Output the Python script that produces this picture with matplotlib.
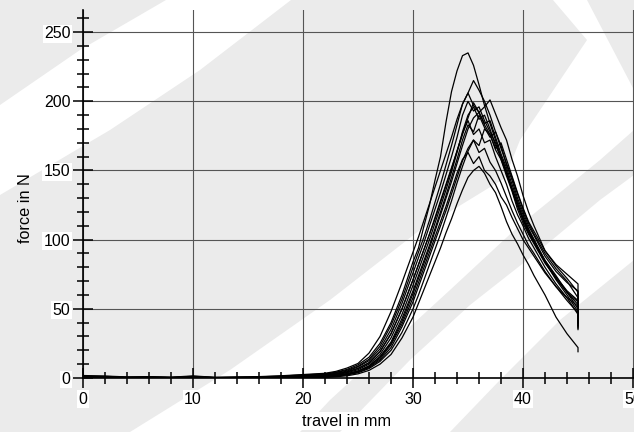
import numpy as np
import matplotlib.pyplot as plt
from matplotlib.patches import Polygon
from matplotlib.ticker import MultipleLocator

plt.rcParams['font.family'] = ['Liberation Sans', 'DejaVu Sans']

# travel grid shared by all runs (mm); last point repeats 45 for the unloading drop
travel = [0, 2, 4, 6, 8, 10, 12, 14, 16, 18, 20, 22, 23, 24, 25, 26, 27, 28, 29,
          30, 30.5, 31, 31.5, 32, 32.5, 33, 33.5, 34, 34.5, 35, 35.5, 36, 36.5,
          37, 37.5, 38, 38.5, 39, 39.5, 40, 40.5, 41, 42, 43, 44, 45, 45]

# force in N for each run
run01 = [1.5, 1.2, 0.6, 0.8, 0.5, 1.2, 0.4, 0.6, 0.8, 1.4, 2.2, 3.0, 4.2, 6.2, 9.5, 15, 25, 40, 60,
         84, 94, 110, 125, 143, 160, 185, 207, 222, 233, 235, 226, 212, 197,
         184, 172, 160, 148, 137, 126, 116, 107, 100, 85, 73, 63, 56, 44]
run02 = [1.0, 0.8, 0.4, 0.6, 0.3, 0.9, 0.3, 0.4, 0.6, 1.1, 1.9, 2.8, 3.9, 5.6, 8.5, 13.5, 23, 38, 57,
         80, 91, 102, 114, 127, 140, 154, 168, 183, 198, 206, 215, 208, 200,
         190, 178, 168, 154, 143, 130, 120, 110, 103, 88, 77, 69, 63, 40]
run03 = [1.8, 1.4, 0.8, 1.0, 0.6, 1.5, 0.5, 0.7, 1.0, 1.6, 2.5, 3.4, 4.8, 7.2, 10.5, 18, 30, 48, 69,
         91, 102, 114, 126, 138, 150, 162, 174, 187, 198, 206, 197, 192, 183,
         176, 165, 158, 146, 135, 122, 112, 104, 97, 83, 72, 62, 53, 42]
run04 = [0.6, 0.4, 0.2, 0.3, 0.2, 0.5, 0.2, 0.3, 0.4, 0.8, 1.3, 2.0, 3.0, 4.5, 7, 11, 19, 32, 50,
         71, 82, 93, 104, 116, 128, 140, 152, 164, 176, 188, 199, 192, 196,
         201, 191, 181, 172, 158, 146, 132, 120, 110, 92, 82, 75, 68, 36]
run05 = [0.9, 0.7, 0.3, 0.5, 0.3, 0.8, 0.2, 0.4, 0.5, 1.0, 1.6, 2.4, 3.4, 5.0, 8, 12.5, 21, 35, 54,
         76, 87, 98, 110, 122, 134, 147, 160, 174, 190, 200, 193, 196, 186,
         178, 170, 158, 148, 136, 124, 114, 105, 98, 84, 72, 62, 55, 44]
run06 = [0.5, 0.3, 0.2, 0.3, 0.1, 0.4, 0.1, 0.2, 0.3, 0.6, 1.0, 1.6, 2.5, 3.8, 6, 10, 17, 29, 46,
         67, 78, 89, 100, 112, 124, 136, 149, 163, 178, 190, 196, 187, 190,
         180, 168, 160, 150, 137, 126, 115, 106, 99, 85, 74, 62, 50, 42]
run07 = [0.3, 0.2, 0.1, 0.2, 0.1, 0.3, 0.1, 0.1, 0.2, 0.4, 0.7, 1.2, 2.0, 3.2, 5, 8.5, 15, 25, 41,
         61, 72, 83, 94, 106, 118, 130, 142, 155, 168, 180, 188, 192, 184,
         186, 174, 162, 152, 140, 128, 118, 108, 100, 84, 71, 60, 48, 40]
run08 = [0.4, 0.2, 0.1, 0.2, 0.1, 0.3, 0.1, 0.2, 0.2, 0.4, 0.6, 1.0, 1.8, 3.0, 5, 8.8, 15.5, 26, 43,
         63, 74, 85, 96, 108, 120, 132, 145, 158, 172, 183, 178, 190, 181,
         174, 178, 166, 155, 145, 133, 122, 112, 104, 90, 79, 70, 58, 38]
run09 = [0.7, 0.5, 0.3, 0.4, 0.2, 0.6, 0.2, 0.3, 0.4, 0.7, 1.2, 1.8, 2.8, 4.3, 6.8, 11, 19, 32, 50,
         71, 82, 93, 104, 115, 127, 139, 151, 164, 177, 186, 176, 180, 170,
         172, 160, 150, 140, 128, 118, 110, 101, 94, 80, 68, 58, 46, 35]
run10 = [0.2, 0.1, 0.1, 0.1, 0.0, 0.2, 0.0, 0.1, 0.1, 0.3, 0.5, 0.8, 1.5, 2.5, 4.2, 7.5, 13, 22, 37,
         55, 66, 77, 88, 99, 110, 121, 133, 145, 157, 166, 172, 168, 180,
         176, 166, 170, 158, 146, 134, 123, 113, 106, 92, 81, 72, 62, 42]
run11 = [0.2, 0.1, 0.0, 0.1, 0.0, 0.1, 0.0, 0.1, 0.1, 0.2, 0.4, 0.6, 1.2, 2.2, 3.8, 6.8, 12, 20, 33,
         50, 60, 71, 82, 93, 104, 116, 128, 141, 153, 164, 172, 163, 166,
         156, 150, 141, 131, 121, 112, 104, 96, 90, 77, 66, 56, 47, 37]
run12 = [0.4, 0.3, 0.1, 0.2, 0.1, 0.3, 0.1, 0.2, 0.2, 0.4, 0.7, 1.0, 1.7, 2.8, 4.7, 8, 14, 24, 39,
         58, 69, 80, 91, 102, 113, 124, 136, 148, 158, 163, 155, 160, 150,
         146, 140, 131, 125, 116, 108, 100, 94, 88, 76, 66, 58, 52, 40]
run13 = [0.1, 0.1, 0.0, 0.1, 0.0, 0.1, 0.0, 0.0, 0.1, 0.2, 0.3, 0.5, 0.9, 1.6, 3.0, 5.5, 10, 17, 29,
         44, 54, 64, 74, 84, 94, 105, 115, 126, 136, 145, 150, 153, 148,
         140, 134, 124, 113, 104, 97, 89, 82, 74, 60, 44, 32, 22, 19]

runs = [run01, run02, run03, run04, run05, run06, run07, run08, run09, run10,
        run11, run12, run13]

W, H = 634, 432
fig = plt.figure(figsize=(W / 100, H / 100), dpi=100)
fig.patch.set_facecolor('#ebebeb')

# watermark swooshes behind the plot (pixel coords)
bg = fig.add_axes([0, 0, 1, 1])
bg.set_xlim(0, W)
bg.set_ylim(H, 0)
bg.axis('off')
swooshes = [
    [(166, 0), (291, 0), (200, 70), (110, 130), (0, 195), (0, 105), (80, 50)],
    [(130, 432), (230, 370), (330, 300), (420, 230), (505, 178), (520, 140), (587, 40),
     (553, 0), (587, 0), (634, 90), (634, 130), (600, 160), (520, 225), (450, 290),
     (390, 345), (330, 400), (300, 432)],
    [(340, 432), (410, 360), (470, 305), (540, 250), (600, 200), (634, 175), (634, 260),
     (560, 320), (500, 380), (450, 432)],
]
for pts in swooshes:
    bg.add_patch(Polygon(pts, closed=True, facecolor='white', edgecolor='none'))

ax = fig.add_axes([83 / W, 54 / H, 551 / W, 368 / H])
ax.patch.set_alpha(0)
for r in runs:
    ax.plot(travel, r, color='black', lw=0.9)

ax.set_xlim(0, 50.09)
ax.set_ylim(0, 266)
ax.xaxis.set_major_locator(MultipleLocator(10))
ax.xaxis.set_minor_locator(MultipleLocator(2))
ax.yaxis.set_major_locator(MultipleLocator(50))
ax.yaxis.set_minor_locator(MultipleLocator(10))
ax.tick_params(which='major', direction='inout', length=14, width=1.1, labelsize=11.5, pad=2)
ax.tick_params(axis='x', which='major', pad=3)
ax.tick_params(which='minor', direction='inout', length=8, width=1.1)
ax.grid(True, which='major', color='#555555', lw=0.8)
ax.set_axisbelow(True)
for s in ['top', 'right']:
    ax.spines[s].set_visible(False)
for s in ['left', 'bottom']:
    ax.spines[s].set_linewidth(1.2)
for lbl in ax.get_xticklabels() + ax.get_yticklabels():
    lbl.set_bbox(dict(facecolor='white', edgecolor='none', pad=1))

fig.text(347 / W, 1 - 421 / H, 'travel in mm', ha='center', va='center', fontsize=11.7,
         bbox=dict(facecolor='white', edgecolor='none', pad=1))
fig.text(25 / W, 1 - 208 / H, 'force in N', ha='center', va='center', rotation=90, fontsize=11.7)

fig.savefig('out.png', dpi=100, facecolor=fig.get_facecolor())
